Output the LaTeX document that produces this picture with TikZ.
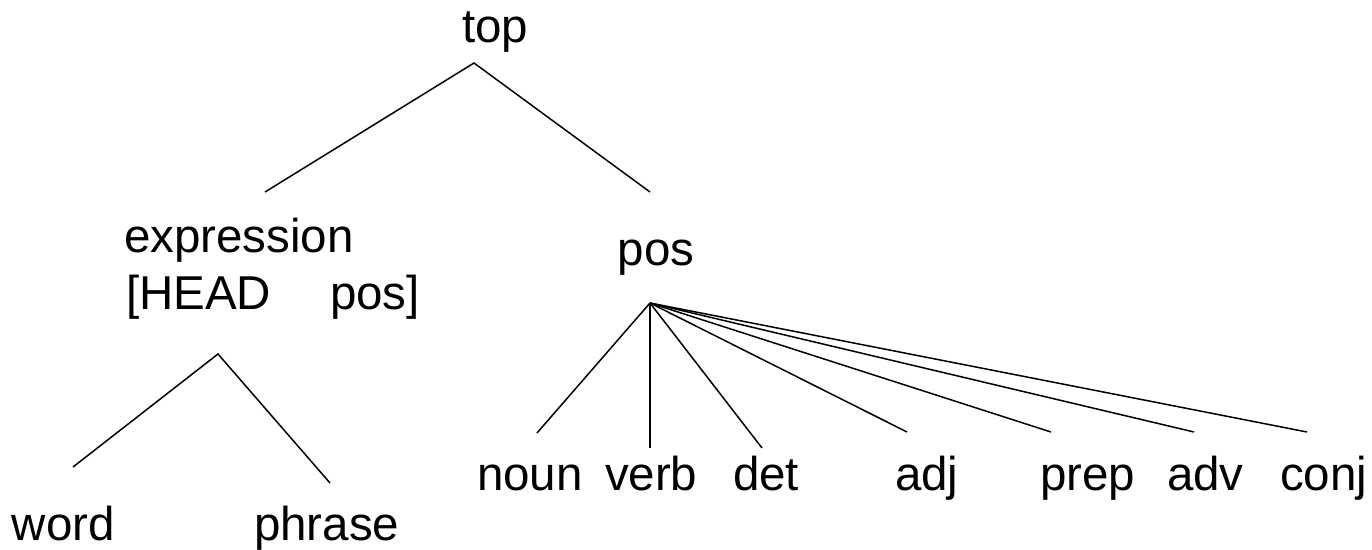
\documentclass[tikz,border=0pt]{standalone}
\usepackage{fontspec}
\setmainfont{Liberation Sans}
\begin{document}
\begin{tikzpicture}[x=1pt,y=-1pt,
  lbl/.style={inner sep=0pt,outer sep=0pt,anchor=base west,font=\fontsize{47.5}{57}\selectfont},
  edge/.style={line width=1.5pt,line cap=butt}]
\useasboundingbox (0,0) rectangle (1372,549);
% labels
\node[lbl] (top) at (462,42) {top};
\node[lbl] (expr) at (124,252) {expression};
\node[lbl] (head) at (126,309) {[HEAD\hspace{59pt}pos]};
\node[lbl,anchor=base] (pos) at (656,265) {pos};
\node[lbl] (word) at (12,540) {word};
\node[lbl] (phrase) at (254,540) {phrase};
\node[lbl] (noun) at (477,490) {noun};
\node[lbl] (verb) at (605,490) {verb};
\node[lbl] (det) at (733,490) {det};
\node[lbl] (adj) at (895,490) {adj};
\node[lbl] (prep) at (1040,490) {prep};
\node[lbl] (adv) at (1167,490) {adv};
\node[lbl] (conj) at (1280,490) {conj};
% connector points
\coordinate (topA) at (474,63);
\coordinate (exprT) at (265,192);
\coordinate (posT) at (650,192);
\coordinate (exprA) at (218,354);
\coordinate (wordT) at (73,467);
\coordinate (phraseT) at (330,483);
\coordinate (posA) at (650,303);
\coordinate (nounT) at (537,433);
\coordinate (verbT) at (650,448);
\coordinate (detT) at (762,448);
\coordinate (adjT) at (907,432);
\coordinate (prepT) at (1051,432);
\coordinate (advT) at (1194,432);
\coordinate (conjT) at (1307,432);
% edges
\draw[edge] (exprT) -- (topA) -- (posT);
\draw[edge] (wordT) -- (exprA) -- (phraseT);
\foreach \t in {nounT,verbT,detT,adjT,prepT,advT,conjT}
  \draw[edge] (posA) -- (\t);
\end{tikzpicture}
\end{document}
